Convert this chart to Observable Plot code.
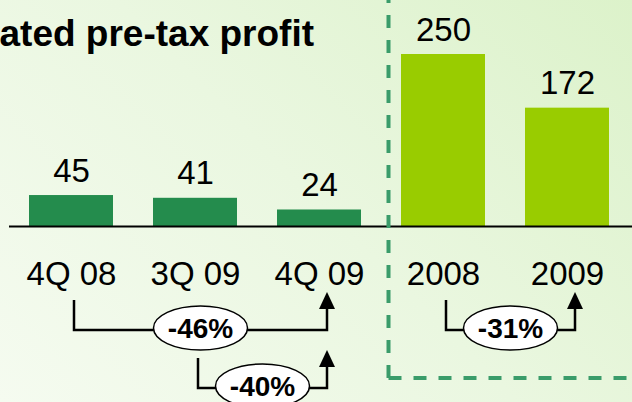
<!DOCTYPE html>
<html>
<head>
<meta charset="utf-8">
<script src="https://cdn.jsdelivr.net/npm/d3@7"></script>
<script src="https://cdn.jsdelivr.net/npm/@observablehq/plot@0.6"></script>
<style>
  html, body { margin: 0; padding: 0; }
  body {
    width: 632px; height: 402px; overflow: hidden;
    background: linear-gradient(45deg, #f5fbf0 0%, #eaf7e0 50%, #dcf2ca 100%);
    font-family: "Liberation Sans", Arial, sans-serif;
  }
  #chart svg { display: block; }
</style>
</head>
<body>
<div id="chart"></div>
<script>
// ---- data ----
const titleText = "ated pre-tax profit";
const categories = ["4Q 08", "3Q 09", "4Q 09", "2008", "2009"];
const values = [45, 41, 24, 250, 172];
const periodTypes = ["quarter", "quarter", "quarter", "year", "year"];

const changeFrom = ["4Q 08", "3Q 09", "2008"];
const changeTo = ["4Q 09", "4Q 09", "2009"];
const changeLabels = ["-46%", "-40%", "-31%"];
const changeRow = [0, 1, 0];

const boxStart = "2008"; // first category inside the dashed "annual" frame

// ---- table for the library ----
const bars = categories.map((c, i) => ({category: c, value: values[i], type: periodTypes[i]}));
const changes = changeLabels.map((l, i) => ({from: changeFrom[i], to: changeTo[i], label: l, row: changeRow[i]}));

const FONT = "Liberation Sans, Arial, sans-serif";

// custom mark: change brackets with ellipse labels + dashed frame
function annotations(index, scales, values, dimensions) {
  const x = scales.x, y = scales.y;
  const bw = typeof x.bandwidth === "function" ? x.bandwidth() : (scales.scales?.x?.bandwidth ?? 0);
  const cx = (c) => x(c) + bw / 2;
  const y0 = y(0);
  const g = d3.create("svg:g");

  // dashed frame around the annual bars
  const left = x(boxStart) - 12.5;
  const bottom = y0 + 152;
  const frameStyle = (p) => p.attr("fill", "none").attr("stroke", "#3a9c6a")
    .attr("stroke-width", 4).attr("stroke-dasharray", "13 12");
  frameStyle(g.append("path").attr("d", `M${left},${bottom}V-10`));
  frameStyle(g.append("path").attr("d", `M${left},${bottom}H${dimensions.width + 10}`));

  for (const d of changes) {
    const xa = cx(d.from) + 3;
    const xb = cx(d.to) + 8;
    const ly = y0 + 104 + d.row * 58;
    g.append("path")
      .attr("d", `M${xa},${ly - 30}V${ly}H${xb}V${ly - 22}`)
      .attr("fill", "none").attr("stroke", "black").attr("stroke-width", 2.5);
    g.append("path")
      .attr("d", `M${xb - 8},${ly - 21}L${xb},${ly - 38}L${xb + 8},${ly - 21}Z`)
      .attr("fill", "black");
    const mx = (xa + xb) / 2;
    g.append("ellipse")
      .attr("cx", mx).attr("cy", ly - 2).attr("rx", 47).attr("ry", 22)
      .attr("fill", "white").attr("stroke", "black").attr("stroke-width", 1.5);
    g.append("text")
      .attr("x", mx).attr("y", ly - 2).attr("dy", "0.36em")
      .attr("text-anchor", "middle")
      .attr("font-family", FONT).attr("font-weight", "bold").attr("font-size", 28)
      .attr("fill", "black")
      .text(d.label);
  }
  return g.node();
}

const chart = Plot.plot({
  width: 632,
  height: 402,
  marginLeft: 9,
  marginRight: 0,
  marginTop: 54,
  marginBottom: 176,
  style: {background: "transparent", fontFamily: FONT, overflow: "visible"},
  x: {domain: categories, paddingInner: 0.32, paddingOuter: 0.16, insetRight: 2, axis: null},
  y: {domain: [0, 250], axis: null},
  color: {domain: ["quarter", "year"], range: ["#248c4d", "#99cc00"]},
  marks: [
    Plot.barY(bars, {x: "category", y: "value", fill: "type"}),
    Plot.ruleY([0], {stroke: "black", strokeWidth: 2}),
    Plot.text(bars, {x: "category", y: "value", text: (d) => String(d.value),
      lineAnchor: "bottom", dy: -14, fontSize: 33, fill: "black"}),
    Plot.text(bars, {x: "category", y: () => 0, text: "category",
      lineAnchor: "bottom", dy: 58, fontSize: 33, fill: "black"}),
    Plot.text([titleText], {frameAnchor: "top-left", text: (d) => d, textAnchor: "start",
      lineAnchor: "bottom", dx: -10, dy: -9, fontSize: 37, fontWeight: "bold", fill: "black"}),
    annotations
  ]
});
document.getElementById("chart").appendChild(chart);
</script>
</body>
</html>
